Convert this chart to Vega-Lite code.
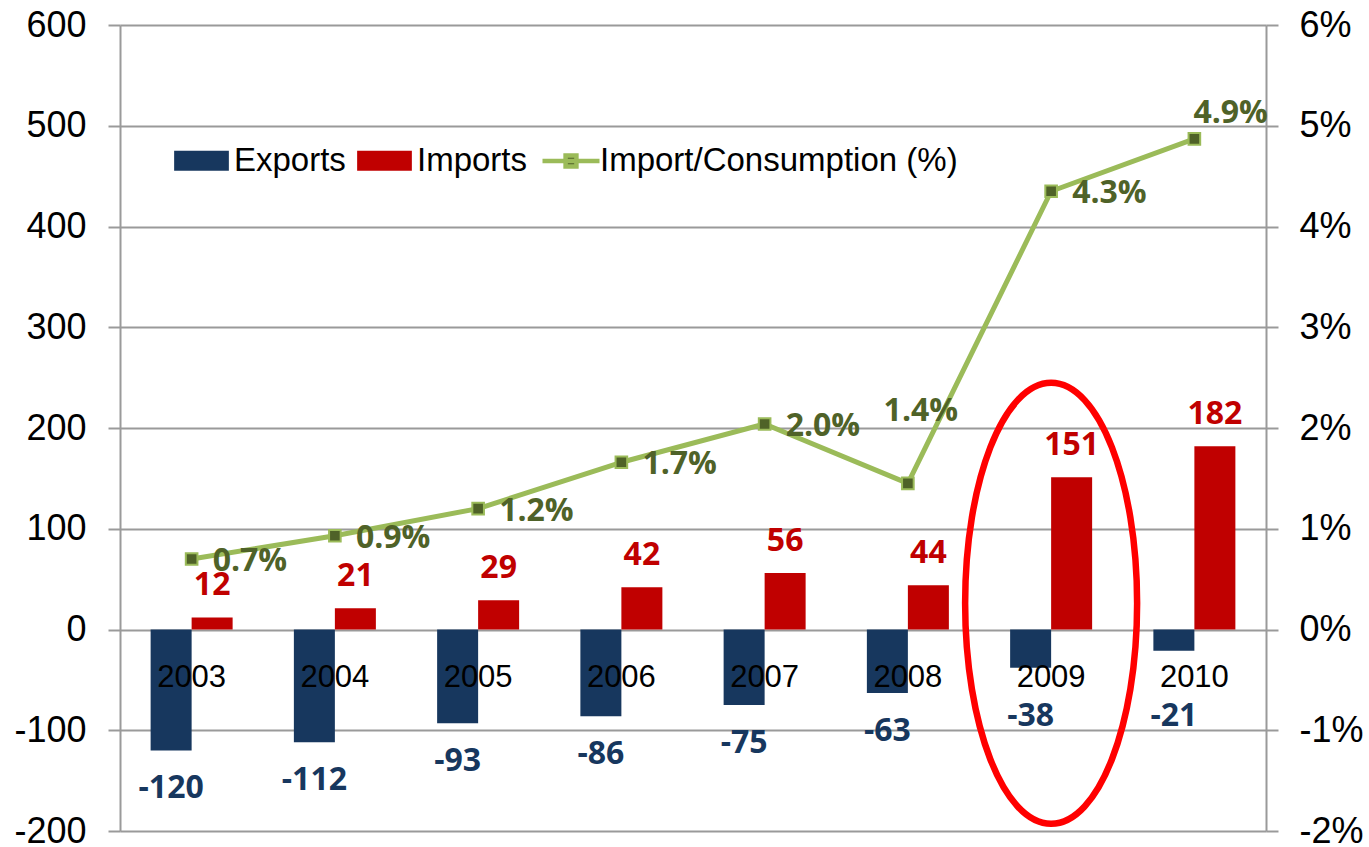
{
  "$schema": "https://vega.github.io/schema/vega-lite/v6.json",
  "width": 1146,
  "height": 806,
  "autosize": {"type": "none"},
  "padding": {"left": 120, "top": 25, "right": 103, "bottom": 16},
  "background": "white",
  "config": {
    "view": {"stroke": null},
    "axis": {
      "domainColor": "#9a9a9a",
      "tickColor": "#9a9a9a",
      "gridColor": "#9a9a9a",
      "labelFont": "Liberation Sans",
      "labelFontSize": 36,
      "labelColor": "#000000"
    }
  },
  "datasets": {
    "bars": [
      {"year": "2003", "series": "Exports", "value": -120},
      {"year": "2003", "series": "Imports", "value": 12},
      {"year": "2004", "series": "Exports", "value": -112},
      {"year": "2004", "series": "Imports", "value": 21},
      {"year": "2005", "series": "Exports", "value": -93},
      {"year": "2005", "series": "Imports", "value": 29},
      {"year": "2006", "series": "Exports", "value": -86},
      {"year": "2006", "series": "Imports", "value": 42},
      {"year": "2007", "series": "Exports", "value": -75},
      {"year": "2007", "series": "Imports", "value": 56},
      {"year": "2008", "series": "Exports", "value": -63},
      {"year": "2008", "series": "Imports", "value": 44},
      {"year": "2009", "series": "Exports", "value": -38},
      {"year": "2009", "series": "Imports", "value": 151},
      {"year": "2010", "series": "Exports", "value": -21},
      {"year": "2010", "series": "Imports", "value": 182}
    ],
    "ratio": [
      {"year": "2003", "ratio": 0.0070, "label": "0.7%"},
      {"year": "2004", "ratio": 0.0093, "label": "0.9%"},
      {"year": "2005", "ratio": 0.0120, "label": "1.2%"},
      {"year": "2006", "ratio": 0.0166, "label": "1.7%"},
      {"year": "2007", "ratio": 0.0204, "label": "2.0%"},
      {"year": "2008", "ratio": 0.0145, "label": "1.4%"},
      {"year": "2009", "ratio": 0.0435, "label": "4.3%"},
      {"year": "2010", "ratio": 0.0487, "label": "4.9%"}
    ]
  },
  "layer": [
    {
      "data": {"name": "bars"},
      "transform": [{"filter": "datum.series === 'Exports'"}],
      "mark": {"type": "bar", "width": 41, "xOffset": -20.5},
      "encoding": {
        "x": {
          "field": "year", "type": "nominal", "sort": null,
          "scale": {"paddingInner": 0.428, "paddingOuter": 0.214},
          "axis": {
            "orient": "bottom", "offset": -201.5, "labels": false, "title": null,
            "ticks": true, "tickSize": 8, "tickWidth": 2, "bandPosition": 0,
            "domain": true, "domainWidth": 2, "grid": false
          }
        },
        "y": {
          "field": "value", "type": "quantitative",
          "scale": {"domain": [-200, 600], "nice": false, "zero": false},
          "axis": {
            "orient": "left", "title": null,
            "values": [-200, -100, 0, 100, 200, 300, 400, 500, 600],
            "grid": true, "gridWidth": 2, "domainWidth": 2, "tickWidth": 2,
            "tickSize": 12, "labelPadding": 22,
            "labelExpr": "'' + datum.value"
          }
        },
        "color": {
          "field": "series", "type": "nominal",
          "scale": {
            "domain": ["Exports", "Imports"],
            "range": ["#17375E", "#C00000"]
          },
          "legend": {
            "title": null,
            "orient": "none",
            "legendX": 53,
            "legendY": 107,
            "direction": "horizontal",
            "labelFont": "Liberation Sans",
            "labelFontSize": 33,
            "labelColor": "#000000",
            "labelOffset": 4,
            "labelLimit": 800,
            "columnPadding": 10,
            "symbolSize": 3249,
            "symbolType": "M-0.96,-0.35L0.96,-0.35L0.96,0.35L-0.96,0.35Z",
            "symbolStrokeWidth": 0,
            "symbolOpacity": 1
          }
        }
      }
    },
    {
      "data": {"name": "bars"},
      "transform": [{"filter": "datum.series === 'Imports'"}],
      "mark": {"type": "bar", "width": 41, "xOffset": 20.5},
      "encoding": {
        "x": {"field": "year", "type": "nominal", "sort": null, "axis": null},
        "y": {
          "field": "value", "type": "quantitative",
          "scale": {"domain": [-200, 600], "nice": false, "zero": false},
          "axis": null
        },
        "color": {"field": "series", "type": "nominal"}
      }
    },
    {
      "data": {"name": "bars"},
      "transform": [{"filter": "datum.series === 'Imports'"}],
      "mark": {
        "type": "text", "align": "center", "baseline": "alphabetic", "dy": -22, "xOffset": 20.5,
        "font": "Open Sans", "fontWeight": "bold", "fontSize": 32, "color": "#C00000"
      },
      "encoding": {
        "x": {"field": "year", "type": "nominal", "sort": null, "axis": null},
        "y": {"field": "value", "type": "quantitative", "scale": {"domain": [-200, 600], "nice": false, "zero": false}, "axis": null},
        "text": {"field": "value", "type": "nominal"}
      }
    },
    {
      "data": {"name": "bars"},
      "transform": [{"filter": "datum.series === 'Exports' && datum.value < -50"}],
      "mark": {
        "type": "text", "align": "center", "baseline": "alphabetic", "dy": 48, "xOffset": -20.5,
        "font": "Open Sans", "fontWeight": "bold", "fontSize": 32, "color": "#17375E"
      },
      "encoding": {
        "x": {"field": "year", "type": "nominal", "sort": null, "axis": null},
        "y": {"field": "value", "type": "quantitative", "scale": {"domain": [-200, 600], "nice": false, "zero": false}, "axis": null},
        "text": {"field": "value", "type": "nominal"}
      }
    },
    {
      "data": {"name": "bars"},
      "transform": [{"filter": "datum.series === 'Exports' && datum.value >= -50"}],
      "mark": {
        "type": "text", "align": "center", "baseline": "alphabetic", "xOffset": -20.5,
        "font": "Open Sans", "fontWeight": "bold", "fontSize": 32, "color": "#17375E"
      },
      "encoding": {
        "x": {"field": "year", "type": "nominal", "sort": null, "axis": null},
        "y": {"datum": -96, "type": "quantitative", "scale": {"domain": [-200, 600], "nice": false, "zero": false}, "axis": null},
        "text": {"field": "value", "type": "nominal"}
      }
    },
    {
      "data": {"name": "bars"},
      "transform": [{"filter": "datum.series === 'Exports'"}],
      "mark": {
        "type": "text", "align": "center", "baseline": "alphabetic", "dy": 57.5,
        "font": "Liberation Sans", "fontSize": 31, "color": "#000000"
      },
      "encoding": {
        "x": {"field": "year", "type": "nominal", "sort": null, "axis": null},
        "y": {"datum": 0, "type": "quantitative", "scale": {"domain": [-200, 600], "nice": false, "zero": false}, "axis": null},
        "text": {"field": "year", "type": "nominal"}
      }
    },
    {
      "data": {"name": "ratio"},
      "mark": {"type": "line", "strokeWidth": 5, "strokeJoin": "round"},
      "encoding": {
        "x": {"field": "year", "type": "nominal", "sort": null, "axis": null},
        "y": {
          "field": "ratio", "type": "quantitative",
          "scale": {"domain": [-0.02, 0.06], "nice": false, "zero": false},
          "axis": {
            "orient": "right", "title": null,
            "values": [-0.02, -0.01, 0, 0.01, 0.02, 0.03, 0.04, 0.05, 0.06],
            "grid": false, "domainWidth": 2, "tickWidth": 2,
            "tickSize": 12, "labelPadding": 21,
            "labelExpr": "round(datum.value * 100) + '%'"
          }
        },
        "stroke": {
          "datum": "Import/Consumption (%)",
          "type": "nominal",
          "scale": {"domain": ["Import/Consumption (%)"], "range": ["#9BBB59"]},
          "legend": {
            "title": null,
            "orient": "none",
            "legendX": 420,
            "legendY": 105,
            "direction": "horizontal",
            "labelFont": "Liberation Sans",
            "labelFontSize": 33,
            "labelColor": "#000000",
            "labelOffset": -2,
            "labelLimit": 800,
            "symbolSize": 3249,
            "symbolType": "M-1,0L1,0M-0.19,-0.19L0.19,-0.19L0.19,0.19L-0.19,0.19Z",
            "symbolStrokeWidth": 4.5,
            "symbolFillColor": "#4F6228",
            "symbolOpacity": 1
          }
        }
      }
    },
    {
      "data": {"name": "ratio"},
      "mark": {
        "type": "point", "shape": "square", "filled": true, "fill": "#4F6228",
        "stroke": "#9BBB59", "strokeWidth": 2, "size": 135, "opacity": 1
      },
      "encoding": {
        "x": {"field": "year", "type": "nominal", "sort": null, "axis": null},
        "y": {"field": "ratio", "type": "quantitative", "scale": {"domain": [-0.02, 0.06], "nice": false, "zero": false}, "axis": null}
      }
    },
    {
      "data": {"name": "ratio"},
      "transform": [{"filter": "datum.year !== '2008' && datum.year !== '2010'"}],
      "mark": {
        "type": "text", "align": "left", "baseline": "alphabetic", "dx": 21, "dy": 12,
        "font": "Open Sans", "fontWeight": "bold", "fontSize": 32, "color": "#4F6228"
      },
      "encoding": {
        "x": {"field": "year", "type": "nominal", "sort": null, "axis": null},
        "y": {"field": "ratio", "type": "quantitative", "scale": {"domain": [-0.02, 0.06], "nice": false, "zero": false}, "axis": null},
        "text": {"field": "label", "type": "nominal"}
      }
    },
    {
      "data": {"name": "ratio"},
      "transform": [{"filter": "datum.year === '2008'"}],
      "mark": {
        "type": "text", "align": "center", "baseline": "alphabetic", "dx": 13, "dy": -62,
        "font": "Open Sans", "fontWeight": "bold", "fontSize": 32, "color": "#4F6228"
      },
      "encoding": {
        "x": {"field": "year", "type": "nominal", "sort": null, "axis": null},
        "y": {"field": "ratio", "type": "quantitative", "scale": {"domain": [-0.02, 0.06], "nice": false, "zero": false}, "axis": null},
        "text": {"field": "label", "type": "nominal"}
      }
    },
    {
      "data": {"name": "ratio"},
      "transform": [{"filter": "datum.year === '2010'"}],
      "mark": {
        "type": "text", "align": "left", "baseline": "alphabetic", "dx": -1, "dy": -16,
        "font": "Open Sans", "fontWeight": "bold", "fontSize": 32, "color": "#4F6228"
      },
      "encoding": {
        "x": {"field": "year", "type": "nominal", "sort": null, "axis": null},
        "y": {"field": "ratio", "type": "quantitative", "scale": {"domain": [-0.02, 0.06], "nice": false, "zero": false}, "axis": null},
        "text": {"field": "label", "type": "nominal"}
      }
    },
    {
      "data": {"name": "bars"},
      "transform": [{"filter": "datum.year === '2009' && datum.series === 'Imports'"}],
      "mark": {
        "type": "point",
        "shape": "M0,-1C0.2154,-1,0.39,-0.5523,0.39,0C0.39,0.5523,0.2154,1,0,1C-0.2154,1,-0.39,0.5523,-0.39,0C-0.39,-0.5523,-0.2154,-1,0,-1Z",
        "size": 194481,
        "filled": false,
        "stroke": "#FF0000",
        "strokeWidth": 6.5,
        "opacity": 1
      },
      "encoding": {
        "x": {"field": "year", "type": "nominal", "sort": null, "axis": null},
        "y": {"datum": 26, "type": "quantitative", "scale": {"domain": [-200, 600], "nice": false, "zero": false}, "axis": null}
      }
    }
  ],
  "resolve": {"scale": {"y": "independent"}}
}
